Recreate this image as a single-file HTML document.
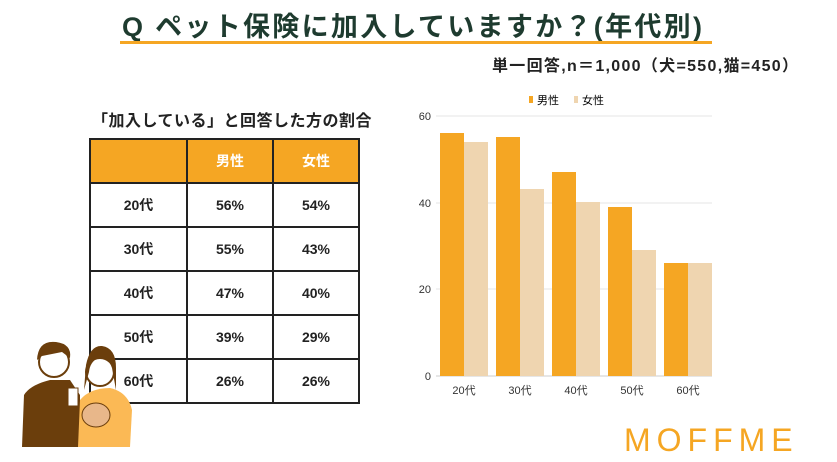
<!DOCTYPE html>
<html><head><meta charset="utf-8"><style>
body{margin:0;width:837px;height:462px;background:#fff;position:relative;overflow:hidden;font-family:"Liberation Sans","Noto Sans CJK JP",sans-serif;color:#222}
.a{position:absolute;white-space:nowrap}
table{position:absolute;left:89px;top:138px;border-collapse:collapse}
td{border:2px solid #222;height:40px;text-align:center;font-weight:bold;font-size:14px}
</style></head><body>
<div class="a" style="left:122px;top:5px;font-size:27px;font-weight:bold;color:#1e3b2f;letter-spacing:2.3px">Q ペット保険に加入していますか？(年代別)</div>
<div class="a" style="left:120px;top:41px;width:592px;height:3px;background:#f5a623"></div>
<div class="a" style="left:492px;top:52px;font-size:16px;font-weight:bold;letter-spacing:1.3px">単一回答,n＝1,000（犬=550,猫=450）</div>
<div class="a" style="left:92px;top:107px;font-size:16px;font-weight:bold;letter-spacing:0.5px">「加入している」と回答した方の割合</div>
<table>
<tr style="background:#f5a623;color:#fff"><td style="width:93px"></td><td style="width:82px">男性</td><td style="width:82px">女性</td></tr>
<tr><td>20代</td><td>56%</td><td>54%</td></tr>
<tr><td>30代</td><td>55%</td><td>43%</td></tr>
<tr><td>40代</td><td>47%</td><td>40%</td></tr>
<tr><td>50代</td><td>39%</td><td>29%</td></tr>
<tr><td>60代</td><td>26%</td><td>26%</td></tr>
</table>
<svg class="a" style="left:0;top:0" width="837" height="462" font-family="Liberation Sans,Noto Sans CJK JP,sans-serif">
<g stroke="#e6e6e6"><line x1="436" y1="116" x2="712" y2="116"/><line x1="436" y1="203" x2="712" y2="203"/><line x1="436" y1="289" x2="712" y2="289"/><line x1="436" y1="376" x2="712" y2="376" stroke="#ccc"/></g>
<g font-size="11" fill="#333" text-anchor="end"><text x="431" y="120">60</text><text x="431" y="207">40</text><text x="431" y="293">20</text><text x="431" y="380">0</text></g>
<rect x="529" y="96" width="4" height="7" fill="#f5a623"/><text x="537" y="104" font-size="11">男性</text>
<rect x="574" y="96" width="4" height="7" fill="#efd5b0"/><text x="582" y="104" font-size="11">女性</text>
<g fill="#f5a623">
<rect x="440" y="133" width="24" height="243"/><rect x="496" y="137" width="24" height="239"/><rect x="552" y="172" width="24" height="204"/><rect x="608" y="207" width="24" height="169"/><rect x="664" y="263" width="24" height="113"/></g>
<g fill="#efd5b0">
<rect x="464" y="142" width="24" height="234"/><rect x="520" y="189" width="24" height="187"/><rect x="576" y="202" width="24" height="174"/><rect x="632" y="250" width="24" height="126"/><rect x="688" y="263" width="24" height="113"/></g>
<g font-size="11" fill="#333" text-anchor="middle"><text x="464" y="394">20代</text><text x="520" y="394">30代</text><text x="576" y="394">40代</text><text x="632" y="394">50代</text><text x="688" y="394">60代</text></g>
<text x="624" y="451" font-size="32" fill="#f5a623" letter-spacing="6">MOFFME</text>
<path d="M22 447 L24 395 Q30 385 50 380 L70 380 L80 395 L80 447Z" fill="#6b3e0c"/>
<path d="M78 447 L80 400 Q90 388 110 388 Q128 392 132 410 L130 447Z" fill="#fbb955"/>
<circle cx="54" cy="362" r="15" fill="#fff" stroke="#6b3e0c" stroke-width="2"/>
<path d="M37 360 Q38 340 56 342 Q72 344 70 358 L62 352 L42 356Z" fill="#6b3e0c"/>
<circle cx="100" cy="372" r="14" fill="#fff" stroke="#6b3e0c" stroke-width="2"/>
<path d="M84 390 L86 365 Q90 345 102 346 Q116 348 116 368 L116 390 L112 368 Q108 356 98 358 Q90 362 89 372Z" fill="#6b3e0c"/>
<ellipse cx="96" cy="415" rx="14" ry="12" fill="#e8b78a" stroke="#6b3e0c"/>
<rect x="68" y="388" width="10" height="18" fill="#fff" stroke="#6b3e0c"/>
</svg>
</body></html>
